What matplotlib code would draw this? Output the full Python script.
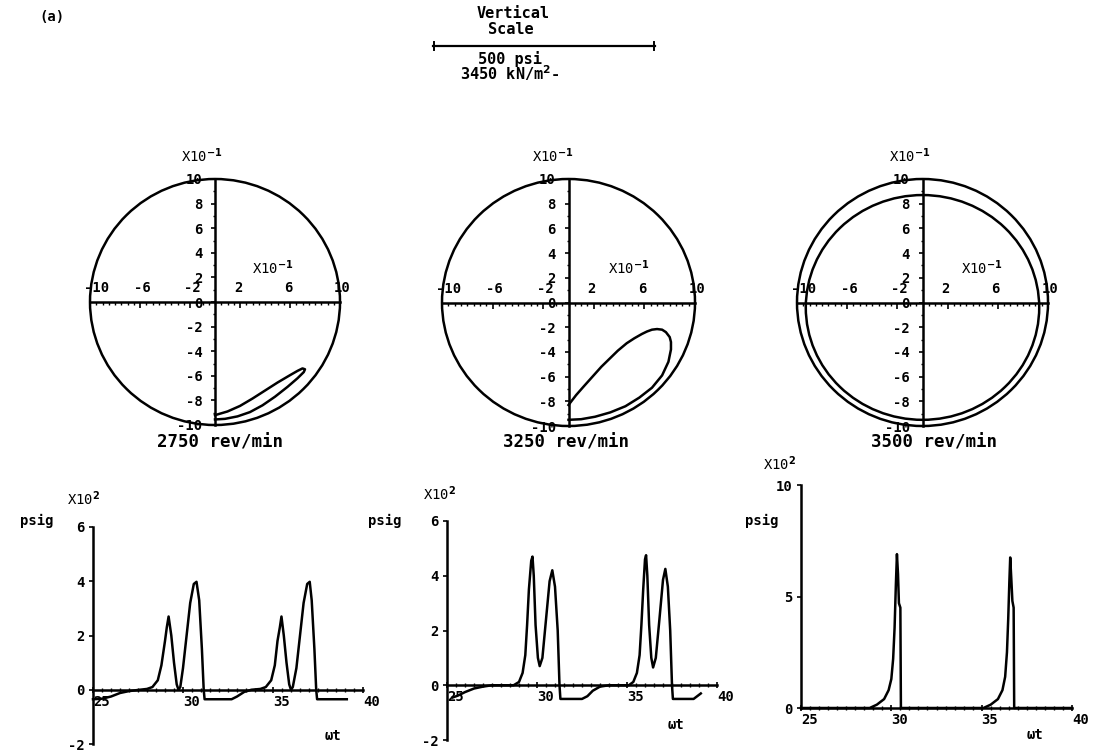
import matplotlib
matplotlib.use("Agg")
import matplotlib.pyplot as plt
from matplotlib.patches import Circle, Ellipse
from matplotlib.lines import Line2D
from matplotlib.ticker import MultipleLocator

W, H = 1094, 752
plt.rcParams['font.family'] = ['DejaVu Sans Mono', 'DejaVu Sans']
plt.rcParams['font.weight'] = 'bold'
plt.rcParams['mathtext.fontset'] = 'dejavusans'

# ---------------- data ----------------
speed_labels = ["2750 rev/min", "3250 rev/min", "3500 rev/min"]
clearance_radius = 1.0

orbit_xticks = [-1.0, -0.6, -0.2, 0.2, 0.6, 1.0]
orbit_yticks = [1.0, 0.8, 0.6, 0.4, 0.2, 0.0, -0.2, -0.4, -0.6, -0.8, -1.0]

# journal orbit, 2750 rev/min (eccentricity ratio)
orbit1_x = [0.0, 0.10, 0.20, 0.30, 0.40, 0.50, 0.60, 0.66, 0.70, 0.72,
            0.71, 0.66, 0.58, 0.48, 0.38, 0.28, 0.18, 0.08, 0.0]
orbit1_y = [-0.92, -0.89, -0.845, -0.785, -0.72, -0.655, -0.595, -0.56, -0.54, -0.547,
            -0.57, -0.62, -0.69, -0.77, -0.84, -0.895, -0.93, -0.95, -0.955]

# journal orbit, 3250 rev/min
orbit2_x = [0.0, 0.06, 0.12, 0.19, 0.26, 0.33, 0.39, 0.46, 0.52, 0.58, 0.62, 0.66, 0.70, 0.74,
            0.77, 0.80, 0.81, 0.81, 0.79, 0.74, 0.66, 0.56, 0.45, 0.33, 0.21, 0.10, 0.0]
orbit2_y = [-0.83, -0.75, -0.68, -0.60, -0.52, -0.45, -0.39, -0.33, -0.29, -0.255, -0.235, -0.22,
            -0.215, -0.22, -0.24, -0.28, -0.32, -0.38, -0.48, -0.59, -0.69, -0.77, -0.84, -0.89,
            -0.925, -0.945, -0.95]

# journal orbit, 3500 rev/min (near-circular whirl)
orbit3_rx = 0.93
orbit3_ry = 0.91
orbit3_cy = -0.04

# pressure traces (psig x 10^2) vs omega*t
p1_wt = [25.0, 25.5, 26.0, 26.5, 27.0, 27.6, 28.0, 28.3, 28.6, 28.8, 29.0, 29.1, 29.2, 29.35,
         29.5, 29.65, 29.75, 29.85, 30.0, 30.2, 30.4, 30.6, 30.75, 30.9, 31.05, 31.15, 31.2,
         32.0, 32.7, 33.0, 33.4, 33.8, 34.3, 34.6, 34.9, 35.1, 35.25, 35.38, 35.47, 35.6, 35.75,
         35.9, 36.0, 36.1, 36.3, 36.5, 36.7, 36.9, 37.04, 37.15, 37.3, 37.4, 37.45, 38.4, 39.1]
p1_psig = [-0.35, -0.33, -0.25, -0.12, -0.05, 0.0, 0.03, 0.1, 0.35, 0.9, 1.8, 2.3, 2.7, 2.0,
           1.0, 0.2, 0.0, 0.1, 0.8, 2.0, 3.2, 3.9, 3.98, 3.3, 1.5, 0.0, -0.35,
           -0.35, -0.35, -0.25, -0.08, 0.0, 0.03, 0.1, 0.35, 0.9, 1.8, 2.3, 2.7, 2.0, 1.0,
           0.2, 0.0, 0.1, 0.8, 2.0, 3.2, 3.9, 3.98, 3.3, 1.5, 0.0, -0.35, -0.35, -0.35]

p2_wt = [25.3, 25.6, 26.0, 26.5, 27.0, 27.5, 28.7, 29.0, 29.2, 29.35, 29.45, 29.55, 29.68, 29.75,
         29.82, 29.92, 30.05, 30.15, 30.3, 30.5, 30.7, 30.85, 31.0, 31.15, 31.25, 31.3,
         32.5, 32.8, 33.1, 33.5, 34.0, 35.1, 35.35, 35.55, 35.7, 35.8, 35.9, 36.0, 36.06, 36.13,
         36.23, 36.35, 36.45, 36.6, 36.8, 37.0, 37.13, 37.27, 37.4, 37.5, 37.55, 38.7, 38.9, 39.1]
p2_psig = [-0.45, -0.38, -0.25, -0.12, -0.05, 0.0, 0.0, 0.12, 0.45, 1.1, 2.2, 3.5, 4.55, 4.7,
           4.0, 2.2, 1.0, 0.7, 1.0, 2.4, 3.8, 4.2, 3.6, 2.0, 0.0, -0.5,
           -0.5, -0.4, -0.2, -0.05, 0.0, 0.0, 0.12, 0.45, 1.1, 2.2, 3.5, 4.6, 4.75, 4.0,
           2.2, 1.0, 0.65, 1.0, 2.4, 3.85, 4.25, 3.6, 2.0, 0.0, -0.5, -0.5, -0.4, -0.3]

p3_wt = [25.0, 28.8, 29.2, 29.6, 29.85, 30.0, 30.1, 30.18, 30.25, 30.31, 30.37, 30.42, 30.5,
         30.53, 35.1, 35.5, 35.9, 36.15, 36.3, 36.4, 36.47, 36.53, 36.58, 36.64, 36.7, 36.77,
         36.8, 40.0]
p3_psig = [0.0, 0.0, 0.15, 0.4, 0.8, 1.3, 2.2, 3.6, 5.5, 6.9, 6.0, 4.7, 4.5,
           0.0, 0.0, 0.15, 0.4, 0.8, 1.4, 2.5, 4.0, 5.6, 6.75, 5.8, 4.8, 4.5,
           0.0, 0.0]

p12_yticks = [6, 4, 2, 0, -2]
p3_yticks = [10, 5, 0]
wt_ticks = [25, 30, 35, 40]

# ---------------- figure ----------------
fig = plt.figure(figsize=(W / 100, H / 100), dpi=100)
fig.patch.set_facecolor('white')


def rect(x0, x1, ytop, ybot):
    return [x0 / W, 1 - ybot / H, (x1 - x0) / W, (ybot - ytop) / H]


def ftext(x, y, s, **kw):
    fig.text(x / W, 1 - y / H, s, **kw)


LW = 1.8


def orbit_axes(box):
    ax = fig.add_axes(rect(*box))
    ax.set_xlim(-1, 1)
    ax.set_ylim(-1, 1)
    ax.patch.set_alpha(0)
    for s in ['right', 'bottom']:
        ax.spines[s].set_visible(False)
    ax.spines['left'].set_position(('data', 0))
    ax.spines['top'].set_position(('data', 0))
    for s in ['left', 'top']:
        ax.spines[s].set_linewidth(1.8)
    ax.xaxis.tick_top()
    ax.set_xticks(orbit_xticks)
    ax.xaxis.set_minor_locator(MultipleLocator(0.05))
    ax.tick_params(axis='x', which='major', direction='in', length=4, width=1.2, labeltop=False)
    ax.tick_params(axis='x', which='minor', direction='in', length=2.5, width=1.0)
    for v in orbit_xticks:
        ax.annotate(f"{round(v * 10):d}", xy=(v, 0), xytext=(-4.5, 5), textcoords='offset points',
                    ha='left', va='bottom', fontsize=10, annotation_clip=False)
    ax.set_yticks(orbit_yticks)
    ax.set_yticklabels([f"{round(v * 10):d}" for v in orbit_yticks])
    ax.yaxis.set_minor_locator(MultipleLocator(0.1))
    ax.tick_params(axis='y', which='major', direction='out', length=3, width=1.2, pad=6, labelsize=10)
    ax.tick_params(axis='y', which='minor', direction='out', length=1.5, width=1.0)
    ax.add_patch(Circle((0, 0), clearance_radius, fill=False, lw=LW, color='black', clip_on=False))
    return ax


orbit_boxes = [(90, 340, 179, 425), (442, 695, 179, 426), (797, 1048, 179, 426)]
orbit_axs = [orbit_axes(b) for b in orbit_boxes]

orbit_axs[0].plot(orbit1_x, orbit1_y, color='black', lw=LW, clip_on=False)
orbit_axs[1].plot(orbit2_x, orbit2_y, color='black', lw=LW, clip_on=False)
orbit_axs[2].add_patch(Ellipse((0, orbit3_cy), 2 * orbit3_rx, 2 * orbit3_ry, fill=False,
                               lw=LW, color='black', clip_on=False))

# multiplier labels and speed labels
for xt, xa in [(202, 273), (553, 629), (910, 982)]:
    ftext(xt, 156, r"X10$^{-1}$", ha='center', va='center', fontsize=10, fontweight='normal')
    ftext(xa, 268, r"X10$^{-1}$", ha='center', va='center', fontsize=10, fontweight='normal')
for lab_x, s in zip([220, 566, 934], speed_labels):
    ftext(lab_x, 443, s, ha='center', va='center', fontsize=12.5)


# pressure plots
def pressure_axes(box, ylim, yticks, wt, p):
    ax = fig.add_axes(rect(*box))
    ax.set_xlim(25, 40)
    ax.set_ylim(*ylim)
    ax.patch.set_alpha(0)
    for s in ['right', 'top']:
        ax.spines[s].set_visible(False)
    ax.spines['bottom'].set_position(('data', 0))
    for s in ['left', 'bottom']:
        ax.spines[s].set_linewidth(1.8)
    ax.set_xticks(wt_ticks)
    ax.set_xticklabels([str(t) for t in wt_ticks])
    plt.setp(ax.get_xticklabels(), ha='left')
    ax.xaxis.set_minor_locator(MultipleLocator(0.5))
    ax.tick_params(axis='x', which='major', direction='inout', length=5, width=1.2, pad=1, labelsize=10)
    ax.tick_params(axis='x', which='minor', direction='inout', length=2.5, width=1.0)
    ax.set_yticks(yticks)
    ax.set_yticklabels([str(t) for t in yticks])
    ax.tick_params(axis='y', which='major', direction='out', length=3, width=1.2, pad=3, labelsize=10)
    ax.plot(wt, p, color='black', lw=LW, clip_on=False)
    return ax


pa1 = pressure_axes((93, 363, 527, 744), (-2, 6), p12_yticks, p1_wt, p1_psig)
pa2 = pressure_axes((447, 717, 521, 740), (-2, 6), p12_yticks, p2_wt, p2_psig)
pa3 = pressure_axes((801, 1072, 485, 708), (0, 10), p3_yticks, p3_wt, p3_psig)

ftext(37, 521, "psig", ha='center', va='center', fontsize=10)
ftext(84, 499, r"X10$^2$", ha='center', va='center', fontsize=10, fontweight='normal')
ftext(385, 521, "psig", ha='center', va='center', fontsize=10)
ftext(440, 494, r"X10$^2$", ha='center', va='center', fontsize=10, fontweight='normal')
ftext(762, 521, "psig", ha='center', va='center', fontsize=10)
ftext(780, 464, r"X10$^2$", ha='center', va='center', fontsize=10, fontweight='normal')
ftext(333, 736, "ωt", ha='center', va='center', fontsize=10)
ftext(676, 725, "ωt", ha='center', va='center', fontsize=10)
ftext(1035, 735, "ωt", ha='center', va='center', fontsize=10)

# header / vertical scale
ftext(52, 17, "(a)", ha='center', va='center', fontsize=10)
ftext(513, 13, "Vertical", ha='center', va='center', fontsize=11)
ftext(511, 30, "Scale", ha='center', va='center', fontsize=11)
fig.add_artist(Line2D([433 / W, 655 / W], [1 - 46 / H, 1 - 46 / H], color='black', lw=1.6))
for xt in [434, 654]:
    fig.add_artist(Line2D([xt / W, xt / W], [1 - 42 / H, 1 - 50 / H], color='black', lw=1.4))
ftext(510, 59, "500 psi", ha='center', va='center', fontsize=11)
ftext(510, 73, r"3450 kN/m$^2$-", ha='center', va='center', fontsize=11)

fig.savefig("out.png", dpi=100, facecolor='white')
